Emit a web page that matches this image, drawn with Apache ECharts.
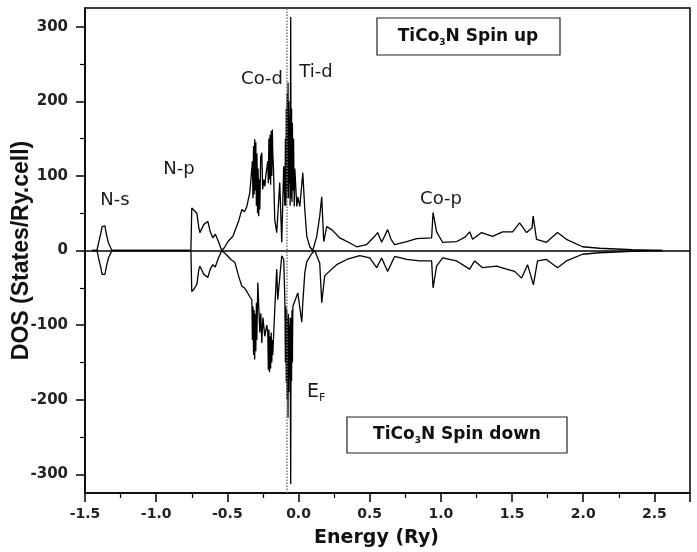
<!DOCTYPE html>
<html>
<head>
<meta charset="utf-8">
<script src="https://cdn.jsdelivr.net/npm/echarts@6/dist/echarts.min.js"></script>
<style>
html,body{margin:0;padding:0;background:#fff;}
#chart{width:697px;height:552px;}
</style>
</head>
<body>
<div id="chart"></div>
<script>
// ---- data (Energy in Ry, DOS in States/Ry.cell) ----
const upEnergy = [-1.45,-1.416,-1.405,-1.39,-1.38,-1.36,-1.35,-1.335,-1.311,-0.756,-0.750,-0.740,-0.735,-0.714,-0.700,-0.693,-0.665,-0.637,-0.620,-0.602,-0.585,-0.567,-0.539,-0.520,-0.496,-0.461,-0.447,-0.420,-0.398,-0.380,-0.363,-0.342,
  -0.328,-0.324,-0.320,-0.316,-0.312,-0.308,-0.304,-0.300,-0.296,-0.292,-0.288,-0.284,-0.280,-0.276,-0.272,-0.266,-0.258,-0.252,-0.244,-0.237,-0.230,
  -0.216,-0.212,-0.208,-0.204,-0.200,-0.196,-0.192,-0.188,-0.184,-0.181,-0.176,-0.167,-0.153,-0.132,-0.118,-0.104,-0.096,
  -0.092,-0.089,-0.086,-0.083,-0.080,-0.077,-0.074,-0.071,-0.068,-0.065,-0.062,-0.059,-0.055,-0.052,-0.049,-0.046,-0.043,-0.040,-0.035,-0.030,-0.026,-0.012,-0.005,0.009,0.030,0.044,0.058,0.079,0.100,0.128,0.149,0.163,0.177,0.198,0.233,0.289,0.311,0.360,0.409,0.479,0.530,0.556,0.584,0.626,0.650,0.675,0.760,0.830,0.935,0.945,0.970,1.012,1.111,1.170,1.202,1.223,1.286,1.363,1.433,1.504,1.553,1.602,1.640,1.648,1.672,1.742,1.819,1.882,1.995,2.114,2.346,2.556];
const upDos = [0,0,10,22,32,33,22,10,0,0,57,57,54,50,30,24,35,39,25,17,22,14,0,4,12,19,19,40,55,52,59,78,
  78,120,70,140,75,149,80,145,60,130,50,110,46,95,55,125,131,82,95,86,100,
  120,90,150,95,155,88,160,100,162,130,110,41,24,91,11,113,60,
  150,60,190,70,210,80,225,70,200,90,180,60,313,70,190,65,171,80,150,59,110,59,72,59,104,55,19,5,0,19,46,72,12,32,28,17,15,10,5,8,18,24,11,28,15,8,12,16,17,51,25,11,12,18,25,15,24,19,25,25,37,24,30,46,15,11,24,15,5,3,1,0];
const downEnergy = [-1.45,-1.416,-1.405,-1.39,-1.38,-1.36,-1.35,-1.335,-1.311,-0.756,-0.750,-0.740,-0.735,-0.714,-0.700,-0.693,-0.665,-0.637,-0.620,-0.602,-0.585,-0.567,-0.539,-0.510,-0.475,-0.447,-0.420,-0.398,-0.380,-0.363,-0.342,
  -0.328,-0.324,-0.320,-0.316,-0.312,-0.308,-0.304,-0.300,-0.296,-0.293,-0.286,-0.272,-0.265,-0.258,-0.250,-0.237,-0.223,
  -0.216,-0.212,-0.208,-0.204,-0.200,-0.196,-0.192,-0.188,-0.184,-0.181,-0.167,-0.153,-0.146,-0.118,-0.104,
  -0.096,-0.092,-0.089,-0.086,-0.083,-0.080,-0.077,-0.074,-0.071,-0.068,-0.065,-0.062,-0.059,-0.055,-0.052,-0.049,-0.046,-0.043,-0.040,-0.026,-0.005,0.023,0.030,0.044,0.058,0.093,0.114,0.149,0.163,0.184,0.205,0.268,0.339,0.430,0.500,0.549,0.584,0.626,0.675,0.760,0.851,0.935,0.945,0.970,1.012,1.111,1.202,1.237,1.293,1.391,1.461,1.518,1.567,1.609,1.650,1.679,1.742,1.819,1.882,1.995,2.114,2.346,2.556];
const downDos = [0,0,-10,-22,-32,-32,-22,-10,0,0,-55,-55,-52,-45,-25,-21,-32,-36,-25,-19,-22,-12,0,-5,-12,-16,-35,-48,-50,-55,-62,
  -66,-120,-75,-140,-80,-146,-85,-135,-70,-120,-43,-110,-84,-124,-90,-115,-100,
  -110,-160,-106,-163,-115,-158,-110,-150,-120,-140,-79,-25,-66,-7,-12,
  -66,-150,-75,-177,-80,-200,-90,-224,-85,-190,-100,-170,-90,-313,-90,-175,-80,-150,-75,-75,-57,-96,-70,-30,-15,-4,0,-17,-70,-34,-30,-19,-12,-7,-10,-23,-10,-28,-8,-12,-14,-14,-50,-21,-10,-14,-25,-14,-23,-21,-25,-28,-37,-19,-46,-14,-12,-23,-14,-5,-3,-1,0];
const zeroLevel = 0;
const fermiEnergy = -0.082;
const xTickLabels = [-1.5,-1.0,-0.5,0.0,0.5,1.0,1.5,2.0,2.5];
const yTickLabels = [-300,-200,-100,0,100,200,300];
const yMinorTicks = [-250,-150,-50,50,150,250];
const peakLabels = ['N-s','N-p','Co-d','Ti-d','Co-p'];

const chart = echarts.init(document.getElementById('chart'), null, {renderer:'canvas'});
const lab = {fontFamily:'DejaVu Sans', fontSize:18, fill:'#1a1a1a'};
const boxText = {fontFamily:'DejaVu Sans', fontWeight:'bold', fontSize:17, fill:'#111'};
const option = {
  animation:false,
  backgroundColor:'#fff',
  grid:{left:85,right:7,top:8,bottom:59,show:true,borderColor:'#000',borderWidth:1.5,backgroundColor:'transparent',outerBoundsMode:'none',containLabel:false},
  xAxis:{
    type:'value',min:-1.5,max:2.75,interval:0.5,
    name:'Energy (Ry)',nameLocation:'middle',nameGap:36,nameMoveOverlap:false,
    nameTextStyle:{fontFamily:'DejaVu Sans',fontWeight:'bold',fontSize:19,color:'#111',padding:[0,22,0,0]},
    axisLine:{onZero:false,lineStyle:{color:'#000',width:1.5}},
    axisTick:{inside:false,length:9,lineStyle:{color:'#000',width:1.5}},
    minorTick:{show:true,splitNumber:2,length:5,lineStyle:{color:'#000',width:1.2}},
    axisLabel:{customValues:xTickLabels,margin:14,fontFamily:'DejaVu Sans',fontWeight:'bold',fontSize:14,color:'#222',formatter:v=>v.toFixed(1)},
    splitLine:{show:false}
  },
  yAxis:[{
    type:'value',min:-325,max:325,
    name:'DOS (States/Ry.cell)',nameLocation:'middle',nameGap:52,nameMoveOverlap:false,
    nameTextStyle:{fontFamily:'Liberation Sans',fontWeight:'bold',fontSize:23,color:'#111'},
    axisLine:{onZero:false,lineStyle:{color:'#000',width:1.5}},
    axisTick:{customValues:yTickLabels,length:9,lineStyle:{color:'#000',width:1.5}},
    axisLabel:{customValues:yTickLabels,margin:17,fontFamily:'DejaVu Sans',fontWeight:'bold',fontSize:15,color:'#222'},
    splitLine:{show:false}
  },{
    type:'value',min:-325,max:325,position:'left',
    axisLine:{show:false,onZero:false},
    axisTick:{show:true,customValues:yMinorTicks,length:5,lineStyle:{color:'#000',width:1.2}},
    axisLabel:{show:false},
    splitLine:{show:false}
  }],
  series:[{
    type:'line',name:'Spin up',showSymbol:false,
    data:upEnergy.map((e,i)=>[e,upDos[i]]),
    lineStyle:{color:'#000',width:1.3},
    markLine:{silent:true,symbol:'none',label:{show:false},
      data:[{yAxis:zeroLevel,lineStyle:{color:'#000',width:1.5,type:'solid'}},
            {xAxis:fermiEnergy,lineStyle:{color:'#777',width:1.5,type:'dotted'}}]}
  },{
    type:'line',name:'Spin down',showSymbol:false,
    data:downEnergy.map((e,i)=>[e,downDos[i]]),
    lineStyle:{color:'#000',width:1.3}
  }],
  graphic:[
    {type:'text',x:115,y:200,style:Object.assign({text:peakLabels[0],align:'center',verticalAlign:'middle'},lab)},
    {type:'text',x:179,y:169,style:Object.assign({text:peakLabels[1],align:'center',verticalAlign:'middle'},lab)},
    {type:'text',x:262,y:79,style:Object.assign({text:peakLabels[2],align:'center',verticalAlign:'middle'},lab)},
    {type:'text',x:316,y:72,style:Object.assign({text:peakLabels[3],align:'center',verticalAlign:'middle'},lab)},
    {type:'text',x:441,y:199,style:Object.assign({text:peakLabels[4],align:'center',verticalAlign:'middle'},lab)},
    {type:'text',x:307,y:392,style:{text:'E{s|F}',fontFamily:'DejaVu Sans',fontSize:19,fill:'#1a1a1a',verticalAlign:'middle',
      rich:{s:{fontFamily:'DejaVu Sans',fontSize:11,verticalAlign:'bottom',padding:[12,0,0,0]}}}},
    {type:'rect',shape:{x:377,y:18,width:183,height:37},style:{fill:'#fff',stroke:'#222',lineWidth:1.2}},
    {type:'text',x:468,y:37,style:Object.assign({text:'TiCo{s|3}N Spin up',align:'center',verticalAlign:'middle',
      rich:{s:{fontFamily:'DejaVu Sans',fontWeight:'bold',fontSize:9,padding:[12,0,0,0]}}},boxText)},
    {type:'rect',shape:{x:347,y:417,width:220,height:36},style:{fill:'#fff',stroke:'#222',lineWidth:1.2}},
    {type:'text',x:457,y:435,style:Object.assign({text:'TiCo{s|3}N Spin down',align:'center',verticalAlign:'middle',
      rich:{s:{fontFamily:'DejaVu Sans',fontWeight:'bold',fontSize:9,padding:[12,0,0,0]}}},boxText)}
  ]
};
chart.setOption(option);
</script>
</body>
</html>
